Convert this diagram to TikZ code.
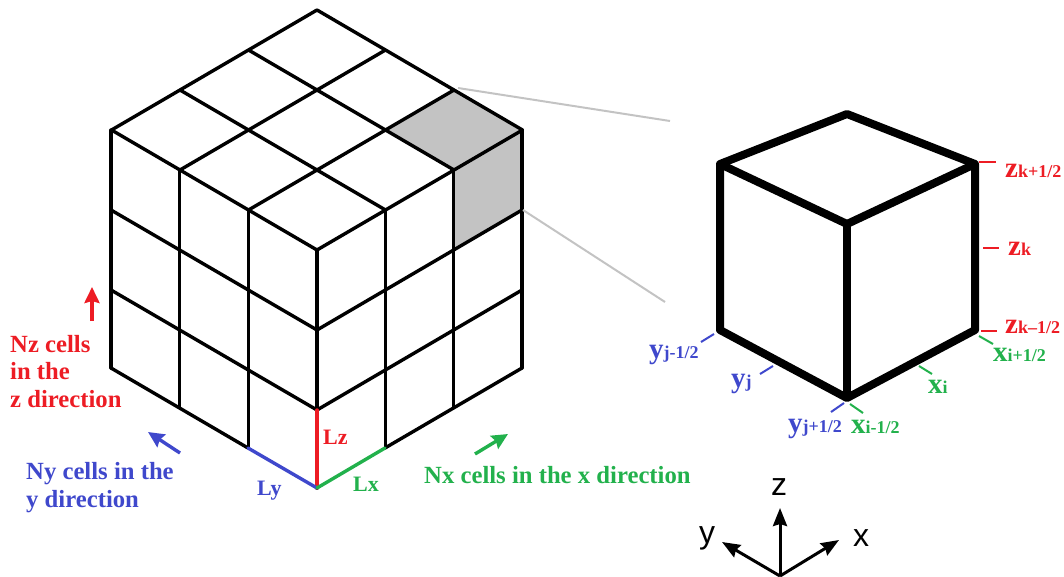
\documentclass[tikz,border=0pt]{standalone}
\usepackage{xcolor}
\usepackage{fontspec}
\setmainfont{Liberation Serif}
\newfontfamily\axisfont{Liberation Sans}
\usetikzlibrary{arrows.meta}
\definecolor{cellred}{HTML}{ED1C24}
\definecolor{cellblue}{HTML}{3F48CC}
\definecolor{cellgreen}{HTML}{22B14C}
\definecolor{cellgray}{HTML}{C3C3C3}
\newcommand{\bigsub}[2]{{\fontsize{29}{29}\selectfont #1}{\fontsize{18}{18}\selectfont #2}}
\tikzset{
  gridline/.style={line width=3.4pt, line cap=round, line join=round},
  cubeline/.style={line width=8pt, line join=round},
  tickline/.style={line width=2pt},
  zoomline/.style={cellgray, line width=2pt},
  dirarrow/.style={line width=3.4pt, -{Stealth[length=16pt,width=15pt,inset=2pt]}},
  axisarrow/.style={line width=3pt, -{Stealth[length=18pt,width=14pt,inset=2pt]}},
  lab/.style={anchor=base west, inner sep=0pt, font=\bfseries\fontsize{24.7}{24.7}\selectfont},
  edgelab/.style={anchor=base west, inner sep=0pt, font=\bfseries\fontsize{22}{22}\selectfont},
  sublab/.style={anchor=base west, inner sep=0pt, font=\bfseries},
  axislab/.style={anchor=base, inner sep=0pt, font=\axisfont\fontsize{32}{32}\selectfont}
}
\begin{document}
\begin{tikzpicture}[x=1pt, y=-1pt]
  \useasboundingbox (0,0) rectangle (1064,576);

  % gerichtete Zelle
  \fill[cellgray] (385,130) -- (453,90) -- (522,130) -- (522,210) -- (453,250) -- (453,170) -- cycle;

  % Deckfläche
  \foreach \i in {0,...,3} {
    \draw[gridline] ({317+\i*68.5},{10+\i*40}) -- ({317+(\i-3)*68.5},{10+(\i+3)*40});
    \draw[gridline] ({317-\i*68.5},{10+\i*40}) -- ({317+(3-\i)*68.5},{10+(\i+3)*40});
  }

  % linke und rechte Seite
  \foreach \h in {210,290} {
    \draw[gridline] (111,\h) -- (317,{\h+120}) -- (522,\h);
  }
  \draw[gridline] (111,368) -- (248,448);
  \draw[gridline] (385,448) -- (522,368);
  \foreach \i in {0,...,3} {
    \draw[gridline] ({111+\i*68.6},{130+\i*40}) -- ({111+\i*68.6},{368+\i*40});
    \draw[gridline] ({522-\i*68.3},{130+\i*40}) -- ({522-\i*68.3},{368+\i*40});
  }
  \draw[gridline] (317,250) -- (317,410);

  % Zellkanten
  \coordinate (front) at (317,488);
  \draw[cellred, gridline] (317,410) -- (front);
  \draw[cellblue, gridline] (248,448) -- (front);
  \draw[cellgreen, gridline] (front) -- (385,448);
  \node[edgelab, text=cellred] (lz) at (323,444) {Lz};
  \node[edgelab, text=cellblue] (ly) at (257,495) {Ly};
  \node[edgelab, text=cellgreen] (lx) at (353,491) {Lx};

  % Richtungen
  \draw[dirarrow, cellred] (92,321) -- (92,287);
  \draw[dirarrow, cellblue] (180,453) -- (148,432);
  \draw[dirarrow, cellgreen] (475,454) -- (508,434);
  \node[lab, text=cellred] (nz) at (10,352) {Nz cells};
  \node[lab, text=cellred] (nzb) at (10,379) {in the};
  \node[lab, text=cellred] (nzc) at (10,407) {z direction};
  \node[lab, text=cellblue] (ny) at (26,479) {Ny cells in the};
  \node[lab, text=cellblue] (nyb) at (26,507) {y direction};
  \node[lab, text=cellgreen] (nx) at (424,483) {Nx cells in the x direction};

  % Verbindung zur Einzelzelle
  \draw[zoomline] (458,88) -- (670,121);
  \draw[zoomline] (523,210) -- (665,302);

  % Einzelzelle
  \coordinate (ctop) at (847,114);
  \coordinate (cleft) at (720,164);
  \coordinate (cright) at (975,164);
  \coordinate (cmid) at (847,224);
  \coordinate (cbot) at (847,398);
  \coordinate (cleftb) at (720,330);
  \coordinate (crightb) at (975,330);
  \draw[cubeline] (cleft) -- (ctop) -- (cright) -- (crightb) -- (cbot) -- (cleftb) -- cycle;
  \draw[cubeline] (cleft) -- (cmid) -- (cright);
  \draw[cubeline] (cmid) -- (cbot);

  % Marken
  \draw[tickline, cellred] (979,162) -- (996,162);
  \draw[tickline, cellred] (983,248) -- (999,248);
  \draw[tickline, cellred] (981,331) -- (997,331);
  \draw[tickline, cellgreen] (979,336) -- (993,344);
  \draw[tickline, cellgreen] (919,366) -- (932,374);
  \draw[tickline, cellgreen] (850,404) -- (863,413);
  \draw[tickline, cellblue] (714,334) -- (701,342);
  \draw[tickline, cellblue] (773,366) -- (760,374);
  \draw[tickline, cellblue] (844,403) -- (831,412);

  \node[sublab, text=cellred] (zp) at (1005,177) {\bigsub{z}{k+1/2}};
  \node[sublab, text=cellred] (zc) at (1008,255) {\bigsub{z}{k}};
  \node[sublab, text=cellred] (zm) at (1005,333) {\bigsub{z}{k–1/2}};
  \node[sublab, text=cellgreen] (xp) at (993,361) {\bigsub{x}{i+1/2}};
  \node[sublab, text=cellgreen] (xc) at (928,393) {\bigsub{x}{i}};
  \node[sublab, text=cellgreen] (xm) at (851,433) {\bigsub{x}{i-1/2}};
  \node[sublab, text=cellblue] (ym) at (649,358) {\bigsub{y}{j-1/2}};
  \node[sublab, text=cellblue] (yc) at (731,387) {\bigsub{y}{j}};
  \node[sublab, text=cellblue] (yp) at (788,432) {\bigsub{y}{j+1/2}};

  % Achsen
  \coordinate (origin) at (780,576);
  \coordinate (zaxis) at (780,508);
  \coordinate (xaxis) at (839,540);
  \coordinate (yaxis) at (722,542);
  \draw[axisarrow] (origin) -- (zaxis);
  \draw[axisarrow] (origin) -- (xaxis);
  \draw[axisarrow] (origin) -- (yaxis);
  \node[axislab] (zlab) at (779,495) {z};
  \node[axislab] (xlab) at (861,546) {x};
  \node[axislab] (ylab) at (707,543) {y};
\end{tikzpicture}
\end{document}
